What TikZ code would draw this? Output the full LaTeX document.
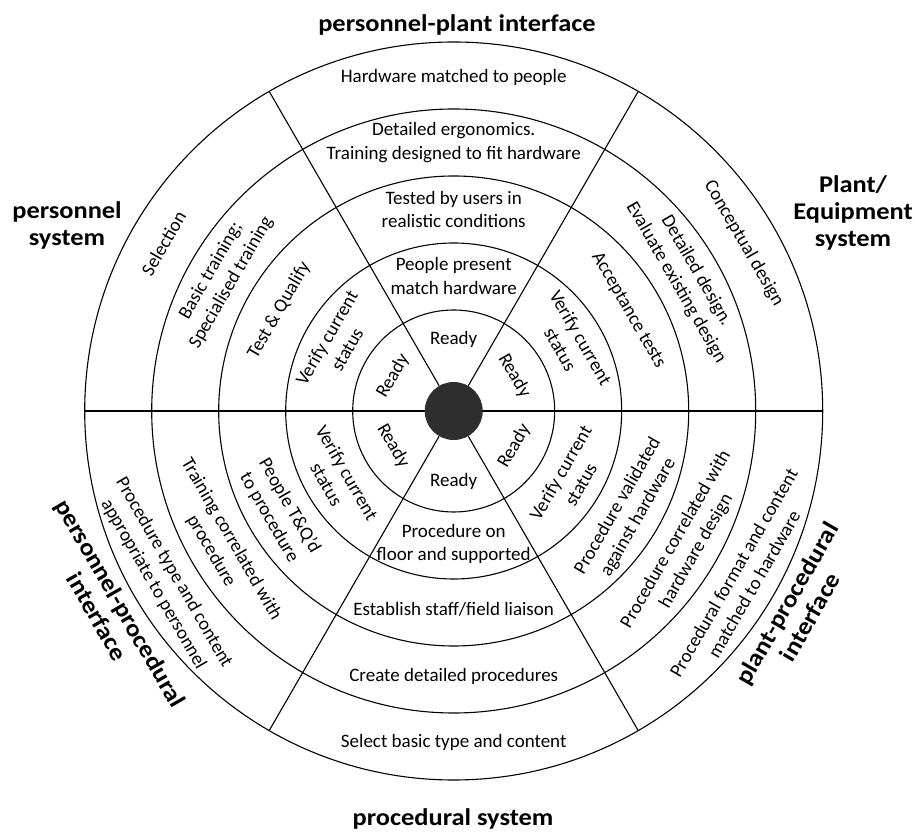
\documentclass[tikz,border=0pt]{standalone}
\usepackage{fontspec}
\setmainfont{Carlito}
\newfontfamily\titlefont{Carlito}[FakeStretch=1.1]
\begin{document}
\begin{tikzpicture}[
  ring/.style={circle, draw, line width=1.1pt, inner sep=0pt, outer sep=0pt},
  spoke/.style={line width=1.1pt},
  cell/.style={align=center, font=\fontsize{19}{23.5}\selectfont, inner sep=1pt},
  title/.style={align=center, font=\titlefont\fontsize{24}{27}\selectfont\bfseries, inner sep=1pt},
]
\useasboundingbox (0,0) rectangle (915pt,832pt);
\coordinate (O) at (453.7pt,421pt);
% rings
\node[ring, minimum size=738pt] (c5) at (O) {};
\node[ring, minimum size=604pt] (c4) at (O) {};
\node[ring, minimum size=470pt] (c3) at (O) {};
\node[ring, minimum size=336pt] (c2) at (O) {};
\node[ring, minimum size=202pt] (c1) at (O) {};
% horizontal diameter
\draw[spoke] (c5.180) -- (c5.0);
% hub
\node[circle, fill=black!82, minimum size=58pt, inner sep=0pt] (hub) at (O) {};
% spokes
\foreach \a in {60,120,240,300} \draw[spoke] (hub.\a) -- (c5.\a);

% top sector: personnel-plant interface
\path (O) ++(90:72pt)    node[cell] (t1) {Ready};
\path (O) ++(90:135pt)   node[cell] (t2) {People present\\match hardware};
\path (O) ++(90:201.5pt) node[cell] (t3) {Tested by users in\\realistic conditions};
\path (O) ++(90:268.5pt) node[cell] (t4) {Detailed ergonomics.\\Training designed to fit hardware};
\path (O) ++(90:334pt)   node[cell] (t5) {Hardware matched to people};

% upper right: plant/equipment
\path (O) ++(30:70pt)    node[cell, rotate=-60] (ur1) {Ready};
\path (O) ++(30:135pt)   node[cell, rotate=-60] (ur2) {Verify current\\status};
\path (O) ++(30:201.5pt) node[cell, rotate=-60] (ur3) {Acceptance tests};
\path (O) ++(30:268.5pt) node[cell, rotate=-60] (ur4) {Detailed design.\\Evaluate existing design};
\path (O) ++(30:335pt)   node[cell, rotate=-60] (ur5) {Conceptual design};

% upper left: personnel system
\path (O) ++(150:70pt)    node[cell, rotate=60] (ul1) {Ready};
\path (O) ++(150:135pt)   node[cell, rotate=60] (ul2) {Verify current\\status};
\path (O) ++(150:201.5pt) node[cell, rotate=60] (ul3) {Test \& Qualify};
\path (O) ++(150:268.5pt) node[cell, rotate=60] (ul4) {Basic training;\\Specialised training};
\path (O) ++(150:335pt)   node[cell, rotate=60] (ul5) {Selection};

% lower left: personnel-procedural interface
\path (O) ++(210:70pt)    node[cell, rotate=-60] (ll1) {Ready};
\path (O) ++(210:135pt)   node[cell, rotate=-60] (ll2) {Verify current\\status};
\path (O) ++(210:201.5pt) node[cell, rotate=-60] (ll3) {People T\&Q'd\\to procedure};
\path (O) ++(210:268.5pt) node[cell, rotate=-60] (ll4) {Training correlated with\\procedure};
\path (O) ++(210:335pt)   node[cell, rotate=-60] (ll5) {Procedure type and content\\appropriate to personnel};

% bottom: procedural system
\path (O) ++(270:70pt)    node[cell] (b1) {Ready};
\path (O) ++(270:133pt)   node[cell] (b2) {Procedure on\\floor and supported};
\path (O) ++(270:198pt)   node[cell] (b3) {Establish staff/field liaison};
\path (O) ++(270:265pt)   node[cell] (b4) {Create detailed procedures};
\path (O) ++(270:331pt)   node[cell] (b5) {Select basic type and content};

% lower right: plant-procedural interface
\path (O) ++(330:70pt)    node[cell, rotate=60] (lr1) {Ready};
\path (O) ++(330:135pt)   node[cell, rotate=60] (lr2) {Verify current\\status};
\path (O) ++(330:201.5pt) node[cell, rotate=60] (lr3) {Procedure validated\\against hardware};
\path (O) ++(330:268.5pt) node[cell, rotate=60] (lr4) {Procedure correlated with\\hardware design};
\path (O) ++(330:335pt)   node[cell, rotate=60] (lr5) {Procedural format and content\\matched to hardware};

% outer titles
\node[title] (ttop) at (457pt,807pt) {personnel-plant interface};
\node[title] (tbot) at (453pt,13pt) {procedural system};
\node[title] (tleft) at (67pt,607pt) {personnel\\system};
\node[title] (tright) at (853pt,619pt) {Plant/\\Equipment\\system};
\path (O) ++(210:398pt) node[title, rotate=-60] (tll) {personnel-procedural\\interface};
\path (O) ++(330:398pt) node[title, rotate=60] (tlr) {plant-procedural\\interface};
\end{tikzpicture}
\end{document}
